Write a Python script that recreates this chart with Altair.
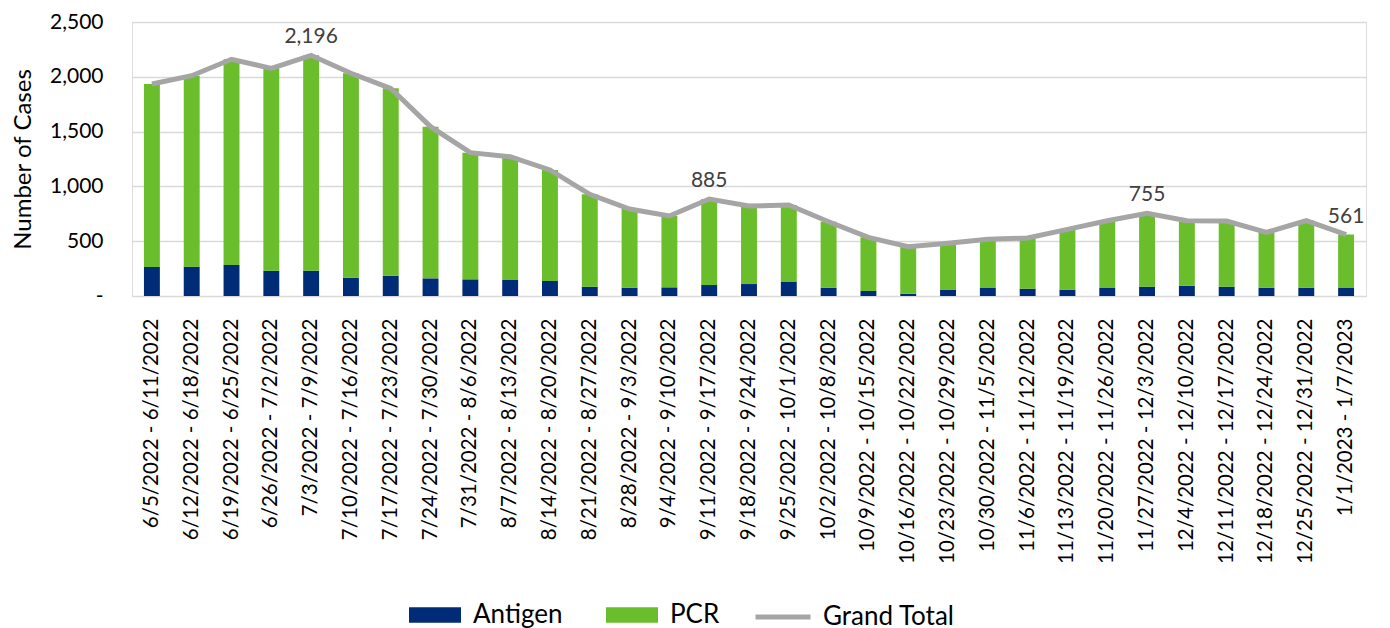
import altair as alt
import pandas as pd

weeks = [
    "6/5/2022 - 6/11/2022", "6/12/2022 - 6/18/2022", "6/19/2022 - 6/25/2022",
    "6/26/2022 - 7/2/2022", "7/3/2022 - 7/9/2022", "7/10/2022 - 7/16/2022",
    "7/17/2022 - 7/23/2022", "7/24/2022 - 7/30/2022", "7/31/2022 - 8/6/2022",
    "8/7/2022 - 8/13/2022", "8/14/2022 - 8/20/2022", "8/21/2022 - 8/27/2022",
    "8/28/2022 - 9/3/2022", "9/4/2022 - 9/10/2022", "9/11/2022 - 9/17/2022",
    "9/18/2022 - 9/24/2022", "9/25/2022 - 10/1/2022", "10/2/2022 - 10/8/2022",
    "10/9/2022 - 10/15/2022", "10/16/2022 - 10/22/2022", "10/23/2022 - 10/29/2022",
    "10/30/2022 - 11/5/2022", "11/6/2022 - 11/12/2022", "11/13/2022 - 11/19/2022",
    "11/20/2022 - 11/26/2022", "11/27/2022 - 12/3/2022", "12/4/2022 - 12/10/2022",
    "12/11/2022 - 12/17/2022", "12/18/2022 - 12/24/2022", "12/25/2022 - 12/31/2022",
    "1/1/2023 - 1/7/2023",
]
antigen = [265, 268, 283, 231, 231, 167, 185, 161, 152, 146, 137, 85, 76, 79, 100,
           109, 128, 76, 46, 21, 55, 73, 67, 58, 73, 85, 94, 85, 76, 76, 73]
totals = [1934, 2010, 2160, 2077, 2196, 2032, 1895, 1545, 1308, 1271, 1150, 928, 794,
          730, 885, 821, 830, 678, 535, 450, 481, 517, 529, 608, 687, 755, 687, 684,
          581, 687, 561]
pcr = [t - a for t, a in zip(totals, antigen)]
labeled_weeks = ["7/3/2022 - 7/9/2022", "9/11/2022 - 9/17/2022",
                 "11/27/2022 - 12/3/2022", "1/1/2023 - 1/7/2023"]
y_ticks = [0, 500, 1000, 1500, 2000, 2500]

n = len(weeks)
bars_df = pd.DataFrame({
    "week": weeks * 2,
    "series": ["Antigen"] * n + ["PCR"] * n,
    "value": antigen + pcr,
    "ord": [0] * n + [1] * n,
})
tot_df = pd.DataFrame({
    "week": weeks,
    "total": totals,
    "series": ["Grand Total"] * n,
    "label": [f"{t:,}" if w in labeled_weeks else "" for w, t in zip(weeks, totals)],
})

FONT = "Lato"
NAVY = "#002B77"
GREEN = "#6BBE2B"
GRAY = "#A5A5A5"

yscale = alt.Scale(domain=[0, 2500], nice=False, zero=True)

x_enc = alt.X(
    "week:N", sort=weeks,
    scale=alt.Scale(paddingInner=0.6, paddingOuter=0.3),
    axis=alt.Axis(title=None, labelAngle=270, labelPadding=22, ticks=False,
                  domain=False, labelFont=FONT, labelFontSize=20.5,
                  labelColor="#000000", labelLimit=400, grid=False),
)

bars = alt.Chart(bars_df).mark_bar().encode(
    x=x_enc,
    y=alt.Y(
        "value:Q", stack="zero",
        scale=yscale,
        axis=alt.Axis(
            values=y_ticks, title="Number of Cases", grid=True,
            gridColor="#D9D9D9", gridWidth=1.5, domain=False, ticks=False,
            labelExpr="datum.value == 0 ? '-' : format(datum.value, ',')",
            labelFont=FONT, labelFontSize=21, labelColor="#000000",
            labelPadding=29, titleFont=FONT, titleFontSize=24,
            titleFontWeight="normal", titleColor="#000000", titlePadding=14,
        ),
    ),
    color=alt.Color(
        "series:N",
        scale=alt.Scale(domain=["Antigen", "PCR"], range=[NAVY, GREEN]),
        legend=alt.Legend(
            title=None, orient="none", legendX=277, legendY=567,
            direction="horizontal", symbolType="M-1,-0.3H1V0.3H-1Z",
            symbolSize=2704, symbolStrokeWidth=0, labelFont=FONT,
            labelFontSize=26, labelOffset=12, columnPadding=43, padding=0,
            labelColor="#000000",
        ),
    ),
    order=alt.Order("ord:Q"),
)

line = alt.Chart(tot_df).mark_line(strokeWidth=5).encode(
    x=alt.X("week:N", sort=weeks),
    y=alt.Y("total:Q", scale=yscale),
    stroke=alt.Stroke(
        "series:N",
        scale=alt.Scale(domain=["Grand Total"], range=[GRAY]),
        legend=alt.Legend(
            title=None, orient="none", legendX=621, legendY=565,
            direction="horizontal", symbolType="stroke", symbolSize=3025,
            symbolStrokeWidth=5, labelFont=FONT, labelFontSize=26,
            labelOffset=10, padding=0, labelColor="#000000",
        ),
    ),
)

labels = alt.Chart(tot_df).mark_text(
    dy=-12, baseline="alphabetic", font=FONT, fontSize=21, color="#404040"
).encode(
    x=alt.X("week:N", sort=weeks),
    y=alt.Y("total:Q", scale=yscale),
    text=alt.Text("label:N"),
)

chart = (
    alt.layer(bars, line, labels)
    .properties(
        width=1234, height=274,
        autosize=alt.AutoSizeParams(type="none"),
        padding={"left": 124, "top": 14, "right": 16, "bottom": 332},
    )
    .configure_view(stroke="transparent", strokeWidth=0, strokeOpacity=0)
    .configure_axis(domain=False, ticks=False, domainColor="transparent",
                    domainWidth=0, tickColor="transparent")
    .configure_axisX(grid=False)
    .configure(font=FONT)
)

chart.save("out.html", embed_options={"renderer": "svg", "actions": False})
